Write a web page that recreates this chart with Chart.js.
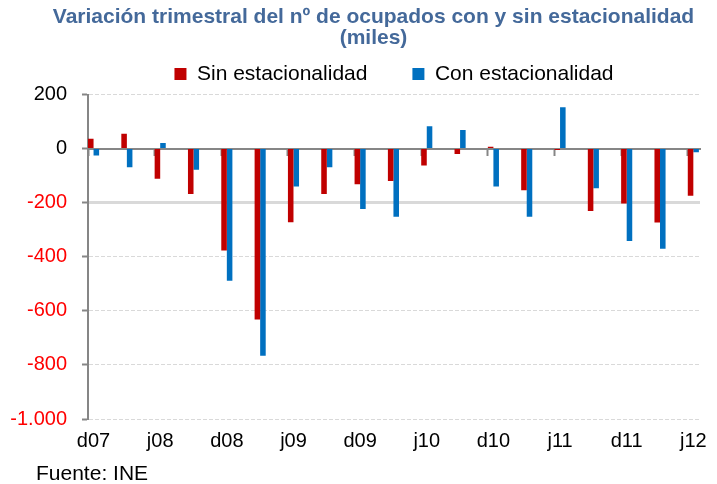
<!DOCTYPE html>
<html lang="es">
<head>
<meta charset="utf-8">
<title>Variación trimestral del nº de ocupados</title>
<script src="https://cdn.jsdelivr.net/npm/chart.js@4/dist/chart.umd.min.js"></script>
<style>
  html, body { margin: 0; padding: 0; background: #fff; }
  #wrap { width: 717px; height: 484px; position: relative; }
</style>
</head>
<body>
<div id="wrap"><canvas id="chart"></canvas></div>
<script>
// 1. Datos (miles de ocupados, variación trimestral)
const trimestres = ['d07', 'm08', 'j08', 's08', 'd08', 'm09', 'j09', 's09', 'd09', 'm10',
  'j10', 's10', 'd10', 'm11', 'j11', 's11', 'd11', 'm12', 'j12']
const sinEstacionalidad = [36, 55, -112, -168, -377, -632, -272, -168, -132, -120,
  -63, -20, 7, -154, -5, -231, -203, -273, -174]
const conEstacionalidad = [-26, -69, 21, -78, -489, -766, -140, -69, -223, -252,
  83, 69, -140, -252, 153, -147, -342, -370, -14]
const ticksY = [200, 0, -200, -400, -600, -800, -1000]

const TITULO = ['Variación trimestral del nº de ocupados con y sin estacionalidad', '(miles)']
const FUENTE = 'Fuente: INE'

const FONT = '"Liberation Sans", Arial, sans-serif'
const GRIS = '#868686'
const ANCHO_GRUPO = 1 / 3   // fracción de cada trimestre que ocupa la pareja de barras

// miles con punto: -1000 -> -1.000
function formatoMiles(v) {
  return String(v).replace(/\B(?=(\d{3})+(?!\d))/g, '.')
}

// 2. Nota de fuente al pie
const fuentePlugin = {
  id: 'fuente',
  afterDraw(chart) {
    const ctx = chart.ctx
    ctx.save()
    ctx.font = '21px ' + FONT
    ctx.fillStyle = '#000'
    ctx.textBaseline = 'alphabetic'
    ctx.fillText(FUENTE, 36, chart.height - 4)
    ctx.restore()
  }
}

// 3. Gráfico
const xMin = -ANCHO_GRUPO / 2
const xMax = 18.2

new Chart(document.getElementById('chart'), {
  type: 'bar',
  data: {
    labels: trimestres.map((t, i) => i),
    datasets: [
      {
        label: 'Sin estacionalidad',
        data: sinEstacionalidad,
        backgroundColor: '#C00000',
        borderWidth: 0
      },
      {
        label: 'Con estacionalidad',
        data: conEstacionalidad,
        backgroundColor: '#0070C0',
        borderWidth: 0
      }
    ]
  },
  options: {
    responsive: true,
    maintainAspectRatio: false,
    animation: false,
    categoryPercentage: ANCHO_GRUPO,
    barPercentage: 1,
    // margen derecho negativo: solo desplaza el título; el área del gráfico
    // queda fijada por el paddingRight del eje x
    layout: { padding: { top: 0, left: 10, right: -20, bottom: 21 } },
    plugins: {
      title: {
        display: true,
        text: TITULO,
        color: '#44699A',
        font: { family: FONT, size: 21, weight: 'bold', lineHeight: 1 },
        padding: { top: 7, bottom: -30.5 }
      },
      legend: {
        position: 'top',
        fullSize: false,
        labels: {
          boxWidth: 12,
          boxHeight: 12,
          padding: 45,
          color: '#000',
          font: { family: FONT, size: 21 }
        }
      },
      tooltip: { enabled: false }
    },
    scales: {
      x: {
        type: 'linear',
        axis: 'x',
        position: 'bottom',
        offset: false,
        min: xMin,
        max: xMax,
        afterFit: (scale) => { scale.paddingRight = 17 },
        grid: { display: false, drawTicks: false, offset: false },
        border: { display: false },
        ticks: {
          stepSize: 2,
          includeBounds: false,
          autoSkip: false,
          maxTicksLimit: 30,
          maxRotation: 0,
          padding: 10,
          color: '#000',
          font: { family: FONT, size: 20 },
          callback: (v) => trimestres[v] ?? ''
        }
      },
      // eje en el cero con las marcas cada dos trimestres
      x2: {
        type: 'linear',
        axis: 'x',
        position: { y: 0 },
        offset: false,
        min: xMin + ANCHO_GRUPO / 2,
        max: xMax + ANCHO_GRUPO / 2,
        z: 1,
        grid: {
          drawOnChartArea: false,
          offset: false,
          tickLength: 6,
          tickWidth: 2,
          tickColor: GRIS
        },
        border: { display: true, color: GRIS, width: 2 },
        ticks: { display: false, stepSize: 2, includeBounds: false, maxTicksLimit: 30 }
      },
      y: {
        min: -1000,
        max: 200,
        afterFit: (scale) => { scale.width = 78 },
        afterBuildTicks: (scale) => { scale.ticks = ticksY.map(v => ({ value: v })) },
        grid: {
          color: '#D9D9D9',
          lineWidth: (c) => (c.tick && c.tick.value === -200 ? 3 : 1),
          tickLength: 6,
          tickWidth: 2,
          tickColor: GRIS
        },
        border: {
          display: true,
          color: GRIS,
          width: 2,
          dash: (c) => (c.tick && c.tick.value === -200 ? [] : [4, 2])
        },
        ticks: {
          padding: 15,
          font: { family: FONT, size: 20 },
          color: (c) => (c.tick && c.tick.value < 0 ? '#FF0000' : '#000000'),
          callback: (v) => formatoMiles(v)
        }
      }
    }
  },
  plugins: [fuentePlugin]
})
</script>
</body>
</html>
